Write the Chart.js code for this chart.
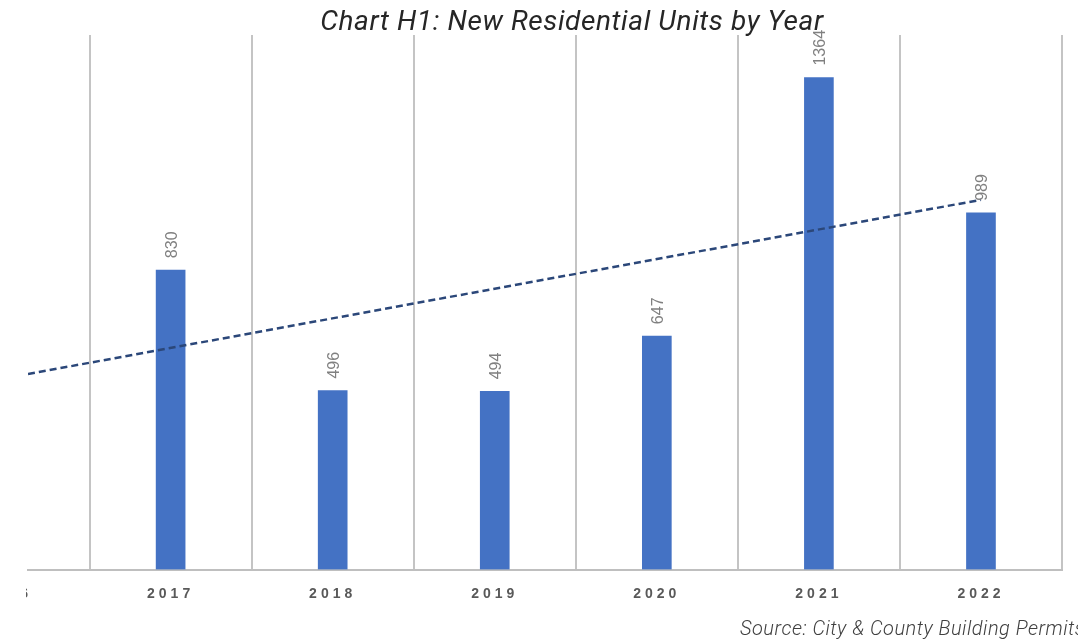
<!DOCTYPE html>
<html>
<head>
<meta charset="utf-8">
<script src="https://cdn.jsdelivr.net/npm/chart.js@4"></script>
<style>
  html, body { margin: 0; padding: 0; background: #ffffff; }
  #wrap { position: relative; width: 1078px; height: 643px; }
  #c { display: block; clip-path: inset(0 0 0 26px); }
</style>
</head>
<body>
<div id="wrap"><canvas id="c" width="1078" height="643"></canvas></div>
<script>
// ---- data ----
const chartTitle = 'Chart H1: New Residential Units by Year';
const sourceNote = 'Source: City & County Building Permits';
const tickYears = [2016, 2017, 2018, 2019, 2020, 2021, 2022];
const years = [2017, 2018, 2019, 2020, 2021, 2022];
const units = [830, 496, 494, 647, 1364, 989];
// dashed linear trend line, endpoints
const trendX = [2016.12, 2022];
const trendY = [542, 1025];
const xMin = 2016.12, xMax = 2022.5;
const yMin = 0, yMax = 1482;

const barData = years.map((y, i) => ({ x: y, y: units[i] }));
const trendData = trendX.map((x, i) => ({ x: x, y: trendY[i] }));

const textPlugin = {
  id: 'textPlugin',
  beforeDraw(chart) { chart.ctx.letterSpacing = '0px'; },
  afterDatasetsDraw(chart) { chart.ctx.letterSpacing = '4px'; },
  afterDraw(chart) {
    const ctx = chart.ctx;
    ctx.save();
    // title
    ctx.letterSpacing = '0.6px';
    ctx.fillStyle = '#262626';
    ctx.font = 'italic 400 28px Roboto';
    ctx.textAlign = 'center';
    ctx.textBaseline = 'alphabetic';
    ctx.fillText(chartTitle, 572, 30);
    // source
    ctx.letterSpacing = '0.5px';
    ctx.fillStyle = '#404040';
    ctx.font = 'italic 300 20px Roboto';
    ctx.textAlign = 'left';
    ctx.fillText(sourceNote, 740, 635);
    // data labels (rotated)
    ctx.letterSpacing = '0px';
    const meta = chart.getDatasetMeta(1);
    ctx.beginPath();
    ctx.rect(0, chart.chartArea.top - 5, chart.width, chart.height);
    ctx.clip();
    ctx.fillStyle = '#808080';
    ctx.font = '16px "Liberation Sans"';
    meta.data.forEach((el, i) => {
      ctx.save();
      ctx.translate(el.x + 1.5, el.y - 12);
      ctx.rotate(-Math.PI / 2);
      ctx.textAlign = 'left';
      ctx.textBaseline = 'middle';
      ctx.fillText(String(units[i]), 0, 0);
      ctx.restore();
    });
    ctx.restore();
  }
};

new Chart(document.getElementById('c'), {
  type: 'bar',
  data: {
    datasets: [
      {
        type: 'line',
        label: 'Trend',
        data: trendData,
        borderColor: '#2b4779',
        borderWidth: 2.5,
        borderDash: [7, 4],
        pointRadius: 0,
        fill: false,
        order: 0
      },
      {
        type: 'bar',
        label: 'New Residential Units',
        data: barData,
        backgroundColor: '#4472c4',
        barThickness: 29,
        order: 1
      }
    ]
  },
  options: {
    responsive: false,
    animation: false,
    devicePixelRatio: 1,
    layout: { padding: { left: 28, right: 16, top: 35, bottom: 0 } },
    plugins: {
      legend: { display: false },
      title: { display: false },
      tooltip: { enabled: false }
    },
    scales: {
      x: {
        type: 'linear',
        offset: false,
        min: xMin,
        max: xMax,
        afterBuildTicks(s) { s.ticks = tickYears.map(v => ({ value: v })); },
        afterFit(s) { s.paddingLeft = 0; s.paddingRight = 0; s.height = 73.5; },
        grid: { offset: true, color: '#c4c4c4', lineWidth: 2, drawTicks: false },
        border: { display: true, color: '#bfbfbf', width: 2 },
        ticks: {
          z: 1,
          padding: 16,
          color: '#595959',
          font: { family: 'Liberation Sans', size: 14, weight: 'bold' },
          callback: (v) => String(v),
          autoSkip: false,
          maxRotation: 0
        }
      },
      y: {
        display: false,
        min: yMin,
        max: yMax
      }
    }
  },
  plugins: [textPlugin]
});
</script>
</body>
</html>
